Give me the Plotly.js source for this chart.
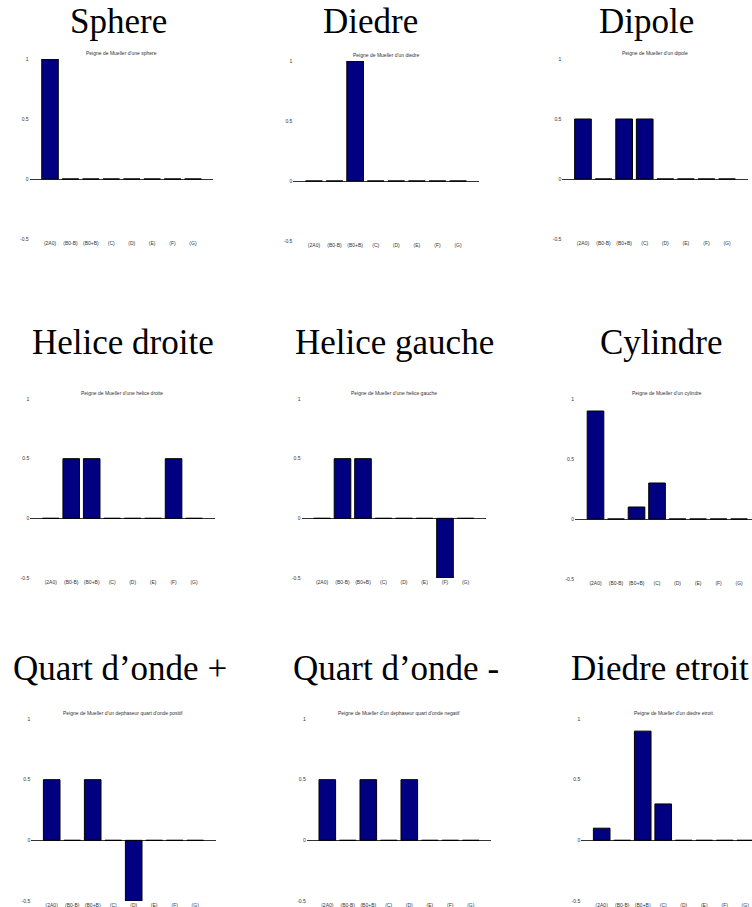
<!DOCTYPE html>
<html>
<head>
<meta charset="utf-8">
<script src="https://cdn.plot.ly/plotly-3.0.1.min.js"></script>
<style>html,body{margin:0;padding:0;background:#fff;}#chart{width:752px;height:907px;}</style>
</head>
<body>
<div id="chart"></div>
<script>
// ---- data ----
const categories = ['(2A0)', '(B0-B)', '(B0+B)', '(C)', '(D)', '(E)', '(F)', '(G)'];
const titles = ['Sphere', 'Diedre', 'Dipole', 'Helice droite', 'Helice gauche', 'Cylindre',
                'Quart d\u2019onde +', 'Quart d\u2019onde -', 'Diedre etroit'];
const subtitles = [
  "Peigne de Mueller d'une sphere",
  "Peigne de Mueller d'un diedre",
  "Peigne de Mueller d'un dipole",
  "Peigne de Mueller d'une helice droite",
  "Peigne de Mueller d'une helice gauche",
  "Peigne de Mueller d'un cylindre",
  "Peigne de Mueller d'un dephaseur quart d'onde positif",
  "Peigne de Mueller d'un dephaseur quart d'onde negatif",
  "Peigne de Mueller d'un diedre etroit"
];
const sphere       = [1, 0, 0, 0, 0, 0, 0, 0];
const diedre       = [0, 0, 1, 0, 0, 0, 0, 0];
const dipole       = [0.5, 0, 0.5, 0.5, 0, 0, 0, 0];
const heliceDroite = [0, 0.5, 0.5, 0, 0, 0, 0.5, 0];
const heliceGauche = [0, 0.5, 0.5, 0, 0, 0, -0.5, 0];
const cylindre     = [0.9, 0, 0.1, 0.3, 0, 0, 0, 0];
const quartPlus    = [0.5, 0, 0.5, 0, -0.5, 0, 0, 0];
const quartMoins   = [0.5, 0, 0.5, 0, 0.5, 0, 0, 0];
const diedreEtroit = [0.1, 0, 0.9, 0.3, 0, 0, 0, 0];
const yTickVals = [-0.5, 0, 0.5, 1];
const yTickText = ['-0.5', '0', '0.5', '1'];

const series = [sphere, diedre, dipole, heliceDroite, heliceGauche, cylindre, quartPlus, quartMoins, diedreEtroit];

// ---- layout geometry (pixels) ----
const W = 752, H = 907;
// [left, right, top, bottom, xRangeMax]
const boxes = [
  [29.6, 213.4, 59, 239, 8],
  [293.4, 478.6, 61, 241, 8],
  [562.4, 747.6, 59, 239, 8],
  [30.3, 214.5, 399, 578, 8],
  [301.5, 486, 399, 578, 8],
  [575, 752, 399, 579, 7.63],
  [31.2, 215.7, 719, 901, 8],
  [306.8, 491.3, 719, 901, 8],
  [581.2, 752, 719, 901, 7.33]
];
const titlePos = [
  [118.5, 21], [370, 21], [646.7, 21],
  [123.3, 343], [394, 343], [660.5, 343],
  [120, 668], [395.8, 668], [660, 668]
];

const traces = [];
const layout = {
  width: W, height: H,
  margin: {l: 0, r: 0, t: 0, b: 0, pad: 0},
  paper_bgcolor: '#fff', plot_bgcolor: '#fff',
  showlegend: false,
  bargap: 0.19,
  annotations: []
};

series.forEach((vals, i) => {
  const n = i + 1;
  const xa = n === 1 ? 'x' : 'x' + n;
  const ya = n === 1 ? 'y' : 'y' + n;
  const [l, r, t, b, xmax] = boxes[i];
  traces.push({
    type: 'bar', x: categories, y: vals, xaxis: xa, yaxis: ya,
    marker: {color: '#000080', line: {color: '#000', width: 1}},
    hoverinfo: 'skip'
  });
  // span of the full -1..8 range for subtitle centering
  const fullRight = l + (r - l) * 9 / (xmax + 1);
  layout['xaxis' + (n === 1 ? '' : n)] = {
    domain: [l / W, r / W], anchor: ya,
    type: 'category', categoryorder: 'array', categoryarray: categories,
    range: [-1, xmax], showgrid: false, zeroline: false, showline: false,
    ticks: '', tickfont: {family: 'Liberation Sans, Arial', size: 5, color: '#333'},
    fixedrange: true
  };
  layout['yaxis' + (n === 1 ? '' : n)] = {
    domain: [1 - b / H, 1 - t / H], anchor: xa,
    range: [-0.5, 1], tickvals: yTickVals, ticktext: yTickText,
    showgrid: false, zeroline: true, zerolinecolor: '#333', zerolinewidth: 1,
    showline: false, ticks: '',
    tickfont: {family: 'Liberation Sans, Arial', size: 5, color: '#333'},
    fixedrange: true
  };
  layout.annotations.push({
    xref: 'paper', yref: 'paper',
    x: titlePos[i][0] / W, y: 1 - titlePos[i][1] / H,
    xanchor: 'center', yanchor: 'middle', showarrow: false,
    text: titles[i],
    font: {family: 'Liberation Serif, Times New Roman, serif', size: 35, color: '#000'}
  });
  layout.annotations.push({
    xref: 'paper', yref: 'paper',
    x: ((l + fullRight) / 2) / W, y: 1 - (t - 6) / H,
    xanchor: 'center', yanchor: 'middle', showarrow: false,
    text: subtitles[i],
    font: {family: 'Liberation Sans, Arial', size: 5, color: '#333'}
  });
});

Plotly.newPlot('chart', traces, layout, {displayModeBar: false, staticPlot: true});
</script>
</body>
</html>
